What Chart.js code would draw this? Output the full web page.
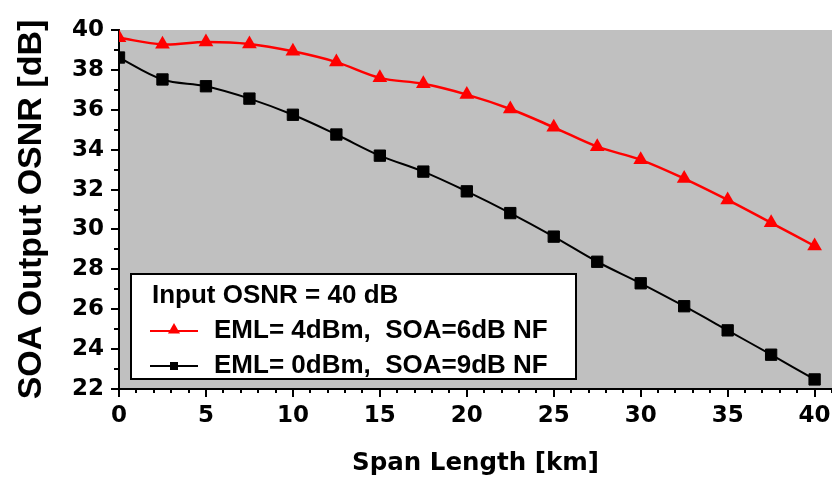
<!doctype html>
<html lang="en">
<head>
<meta charset="UTF-8" />
<title>SOA Output OSNR vs Span Length</title>
<script src="https://cdn.jsdelivr.net/npm/chart.js@4"></script>
<style>
    html, body { margin: 0; padding: 0; background: #fff; }
    #chart { display: block; }
</style>
</head>
<body>
<canvas id="chart" width="832" height="480"></canvas>
<script>
// values
const spanKm = [0, 2.5, 5, 7.5, 10, 12.5, 15, 17.5, 20, 22.5, 25, 27.5, 30, 32.5, 35, 37.5, 40];
const osnrEml4 = [39.61, 39.28, 39.4, 39.3, 38.93, 38.39, 37.6, 37.3, 36.76, 36.04, 35.12, 34.15, 33.49, 32.55, 31.48, 30.33, 29.17];
const osnrEml0 = [38.62, 37.52, 37.18, 36.56, 35.75, 34.76, 33.7, 32.9, 31.91, 30.82, 29.64, 28.38, 27.3, 26.15, 24.94, 23.72, 22.48];
const seriesLabels = ["EML= 4dBm,  SOA=6dB NF", "EML= 0dBm,  SOA=9dB NF"];
const legendHeader = "Input OSNR = 40 dB";
const xTickValues = [0, 5, 10, 15, 20, 25, 30, 35, 40];
const yTickValues = [22, 24, 26, 28, 30, 32, 34, 36, 38, 40];

/*** * * ***/

const tickFont = { family: "DejaVu Sans", weight: "bold", size: 23 };

const plotBackground = {
    id: "plotBackground",
    beforeDraw(chart) {
        const { ctx, chartArea: a } = chart;
        ctx.save();
        ctx.fillStyle = "#c0c0c0";
        ctx.fillRect(a.left, a.top, a.right - a.left, a.bottom - a.top);
        ctx.restore();
    },
};

// major + minor tick marks, drawn outward like the original
const axisTicks = {
    id: "axisTicks",
    afterDraw(chart) {
        const { ctx, chartArea: a } = chart;
        const x = chart.scales.x, y = chart.scales.y;
        ctx.save();
        ctx.strokeStyle = "#000";
        ctx.lineWidth = 2;
        ctx.beginPath();
        for (let v = x.min; v <= x.max; v++) {
            const px = Math.round(x.getPixelForValue(v));
            const len = v % 5 === 0 ? 8 : 4;
            ctx.moveTo(px, a.bottom);
            ctx.lineTo(px, a.bottom + len);
        }
        for (let v = y.min; v <= y.max; v++) {
            const py = Math.round(y.getPixelForValue(v));
            const len = v % 2 === 0 ? 8 : 5;
            ctx.moveTo(a.left, py);
            ctx.lineTo(a.left - len, py);
        }
        ctx.stroke();
        ctx.restore();
    },
};

function drawMarker(ctx, style, cx, cy, r, color) {
    ctx.fillStyle = color;
    ctx.beginPath();
    if (style === "triangle") {
        ctx.moveTo(cx, cy - r);
        ctx.lineTo(cx + r * 0.866, cy + r / 2);
        ctx.lineTo(cx - r * 0.866, cy + r / 2);
        ctx.closePath();
    } else {
        ctx.rect(cx - r, cy - r, 2 * r, 2 * r);
    }
    ctx.fill();
}

// boxed legend inside the plot area
const boxLegend = {
    id: "boxLegend",
    afterDraw(chart) {
        const ctx = chart.ctx;
        ctx.save();
        ctx.fillStyle = "#fff";
        ctx.fillRect(130, 273, 447, 107);
        ctx.strokeStyle = "#000";
        ctx.lineWidth = 2;
        ctx.strokeRect(131, 274, 445, 105);

        ctx.fillStyle = "#000";
        ctx.font = "bold 26px 'Liberation Sans', Arial, sans-serif";
        ctx.textBaseline = "alphabetic";
        ctx.fillText(legendHeader, 152, 303);

        const rows = [331, 366];
        chart.data.datasets.forEach((ds, i) => {
            const ly = rows[i];
            ctx.strokeStyle = ds.borderColor;
            ctx.lineWidth = 2;
            ctx.beginPath();
            ctx.moveTo(150, ly);
            ctx.lineTo(198, ly);
            ctx.stroke();
            if (ds.pointStyle === "triangle") {
                drawMarker(ctx, "triangle", 174, ly - 1, 7, ds.borderColor);
            } else {
                drawMarker(ctx, "rect", 174, ly, 4, ds.borderColor);
            }
            ctx.fillStyle = "#000";
            ctx.fillText(ds.label, 214, ly + 7);
        });
        ctx.restore();
    },
};

/*** * * ***/

new Chart(document.getElementById("chart"), {
    type: "line",
    data: {
        datasets: [
            {
                label: seriesLabels[0],
                data: spanKm.map((v, i) => ({ x: v, y: osnrEml4[i] })),
                borderColor: "#ff0000",
                backgroundColor: "#ff0000",
                borderWidth: 2.5,
                pointStyle: "triangle",
                pointRadius: 8.5,
                pointBorderWidth: 0,
                tension: 0.35,
                clip: { left: 0, top: 10, right: 10, bottom: 0 },
            },
            {
                label: seriesLabels[1],
                data: spanKm.map((v, i) => ({ x: v, y: osnrEml0[i] })),
                borderColor: "#000000",
                backgroundColor: "#000000",
                borderWidth: 2,
                pointStyle: "rect",
                pointRadius: 8,
                pointBorderWidth: 1,
                tension: 0.35,
                clip: { left: 0, top: 10, right: 10, bottom: 0 },
            },
        ],
    },
    options: {
        responsive: false,
        animation: false,
        layout: { autoPadding: false, padding: { top: 30, right: 0, left: 0, bottom: 0 } },
        plugins: {
            legend: { display: false },
            tooltip: { enabled: false },
        },
        scales: {
            x: {
                type: "linear",
                min: 0,
                max: 41,
                afterBuildTicks: (s) => { s.ticks = xTickValues.map((v) => ({ value: v })); },
                afterFit: (s) => {
                    s.height = 91;
                    s.paddingLeft = 0;
                    s.paddingRight = 0;
                },
                grid: { display: false, drawTicks: false },
                border: { display: true, color: "#000", width: 2 },
                ticks: { padding: 13, color: "#000", font: tickFont, maxRotation: 0, autoSkip: false },
                title: {
                    display: true,
                    text: "Span Length [km]",
                    color: "#000",
                    font: { family: "DejaVu Sans", weight: "bold", size: 24.5 },
                    padding: { top: 0, bottom: 2 },
                },
            },
            y: {
                min: 22,
                max: 40,
                afterBuildTicks: (s) => { s.ticks = yTickValues.map((v) => ({ value: v })); },
                afterFit: (s) => {
                    s.width = 119;
                    s.paddingTop = 0;
                    s.paddingBottom = 0;
                },
                grid: { display: false, drawTicks: false },
                border: { display: true, color: "#000", width: 2 },
                ticks: { padding: 15, color: "#000", font: tickFont, autoSkip: false },
                title: {
                    display: true,
                    text: "SOA Output OSNR [dB]",
                    color: "#000",
                    font: { family: "Liberation Sans", weight: "bold", size: 34 },
                    padding: { top: 11, bottom: 0 },
                },
            },
        },
    },
    plugins: [plotBackground, axisTicks, boxLegend],
});
</script>
</body>
</html>
